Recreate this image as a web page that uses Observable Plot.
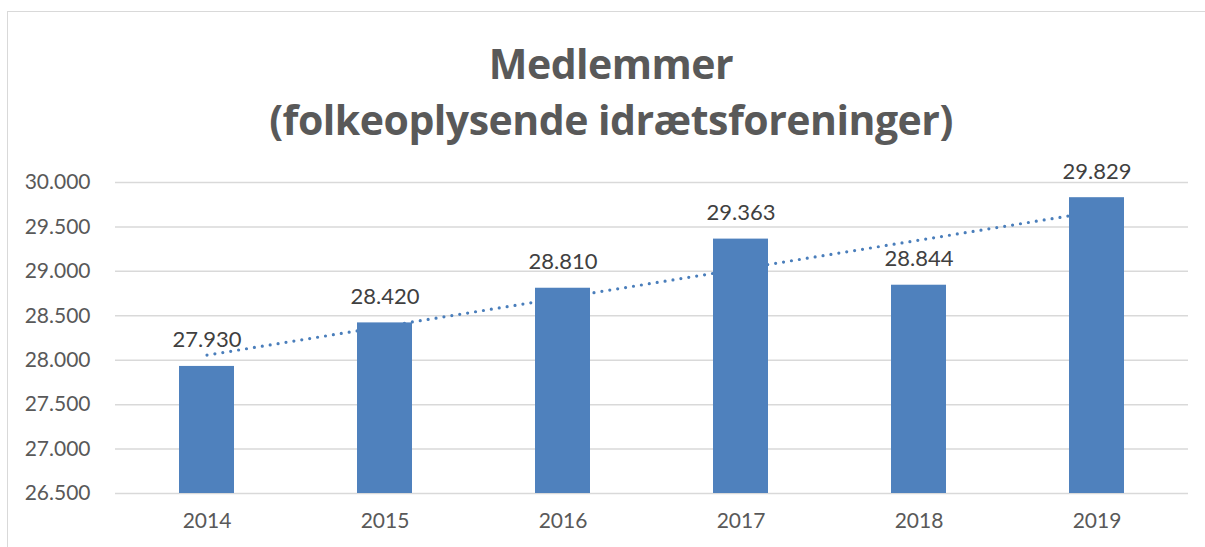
<!DOCTYPE html>
<html>
<head>
<meta charset="utf-8">
<script src="https://cdn.jsdelivr.net/npm/d3@7"></script>
<script src="https://cdn.jsdelivr.net/npm/@observablehq/plot@0.6"></script>
<style>
  html, body { margin: 0; padding: 0; background: #fff; }
  #wrap { position: relative; width: 1205px; height: 547px; overflow: hidden; font-family: Lato, "Open Sans", sans-serif; }
  #frame { position: absolute; left: 7px; top: 11px; width: 1300px; height: 600px; border-left: 1.5px solid #d9d9d9; border-top: 1.5px solid #d9d9d9; }
  #title { position: absolute; left: 7px; right: -10px; top: 35px; text-align: center; color: #595959; font-weight: bold; font-size: 41px; line-height: 56px; font-family: "Open Sans", Lato, sans-serif; letter-spacing: -0.5px; }
  #chart { position: absolute; left: 0; top: 0; }
</style>
</head>
<body>
<div id="wrap">
  <div id="frame"></div>
  <div id="chart"></div>
  <div id="title">Medlemmer<br>(folkeoplysende idrætsforeninger)</div>
</div>
<script>
const years = ["2014", "2015", "2016", "2017", "2018", "2019"];
const members = [27930, 28420, 28810, 29363, 28844, 29829];
const yTicks = [26500, 27000, 27500, 28000, 28500, 29000, 29500, 30000];

const locale = d3.formatLocale({decimal: ",", thousands: ".", grouping: [3], currency: ["", ""]});
const fmt = locale.format(",d");

const data = years.map((year, i) => ({year, value: members[i], idx: i + 1}));

// linear trend (least squares) through the data
const mx = d3.mean(data, d => d.idx);
const my = d3.mean(data, d => d.value);
const slope = d3.sum(data, d => (d.idx - mx) * (d.value - my)) / d3.sum(data, d => (d.idx - mx) ** 2);
const trend = data.map(d => ({year: d.year, value: my + slope * (d.idx - mx)}));

const chart = Plot.plot({
  width: 1205,
  height: 547,
  marginTop: 182,
  marginBottom: 54,
  marginLeft: 115,
  marginRight: 17,
  style: {fontFamily: "Lato, 'Open Sans', sans-serif", fontSize: "20px", color: "#595959", background: "transparent"},
  x: {domain: years, paddingInner: 0.69, paddingOuter: 0.345, label: null},
  y: {domain: [26500, 30000], label: null},
  marks: [
    Plot.gridY(yTicks, {stroke: "#d9d9d9", strokeOpacity: 1, strokeWidth: 1.5}),
    Plot.axisY(yTicks, {tickSize: 0, tickPadding: 25, tickFormat: fmt, fontSize: 21, fill: "#595959"}),
    Plot.axisX({tickSize: 0, tickPadding: 20, fontSize: 21, fill: "#595959"}),
    Plot.line(trend, {x: "year", y: "value", stroke: "#4a7ebb", strokeWidth: 3.2, strokeDasharray: "0 8", strokeLinecap: "round"}),
    Plot.barY(data, {x: "year", y1: 26500, y2: "value", fill: "#4f81bd"}),
    Plot.text(data, {x: "year", y: "value", text: d => fmt(d.value), dy: -26, fontSize: 22, fill: "#404040", textAnchor: "middle"})
  ]
});
document.getElementById("chart").appendChild(chart);
</script>
</body>
</html>
